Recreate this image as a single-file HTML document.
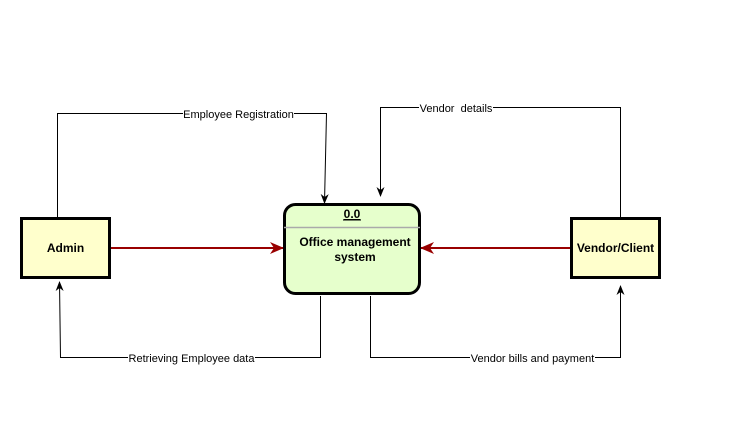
<!DOCTYPE html>
<html><head><meta charset="utf-8"><style>
html,body{margin:0;padding:0;background:#fff;}
svg{display:block;}
text{font-family:"Liberation Sans",Arial,sans-serif;}
</style></head><body>
<svg width="731" height="424" viewBox="0 0 731 424" xmlns="http://www.w3.org/2000/svg">
<defs>
<marker id="ab" markerWidth="10" markerHeight="10" refX="9" refY="5" orient="auto" markerUnits="userSpaceOnUse"><path d="M0,1 L10,5 L0,9 L3,5 Z" fill="#000"/></marker>
<marker id="ar" markerWidth="14" markerHeight="12" refX="13" refY="6" orient="auto" markerUnits="userSpaceOnUse"><path d="M0,0 L14,6 L0,12 L4,6 Z" fill="#990000"/></marker>
</defs>
<!-- connectors -->
<polyline points="57.5,217 57.5,113.5 326.5,113.5 324.5,203" fill="none" stroke="#000" stroke-width="1" marker-end="url(#ab)"/>
<polyline points="620.5,217 620.5,107.5 380.5,107.5 380.5,196" fill="none" stroke="#000" stroke-width="1" marker-end="url(#ab)"/>
<polyline points="320.5,296 320.5,357.5 60.5,357.5 59.5,282" fill="none" stroke="#000" stroke-width="1" marker-end="url(#ab)"/>
<polyline points="370.5,296 370.5,357.5 620.5,357.5 620.5,286" fill="none" stroke="#000" stroke-width="1" marker-end="url(#ab)"/>
<line x1="111" y1="248" x2="283" y2="248" stroke="#990000" stroke-width="2" marker-end="url(#ar)"/>
<line x1="570" y1="248" x2="421" y2="248" stroke="#990000" stroke-width="2" marker-end="url(#ar)"/>
<!-- labels -->
<rect x="183" y="107" width="111" height="13" fill="#fff"/>
<text x="238.5" y="118" font-size="11" text-anchor="middle">Employee Registration</text>
<rect x="419" y="101" width="74" height="13" fill="#fff"/>
<text x="456" y="112" font-size="11" text-anchor="middle" xml:space="preserve">Vendor  details</text>
<rect x="128" y="351" width="127" height="13" fill="#fff"/>
<text x="191.5" y="362" font-size="11" text-anchor="middle">Retrieving Employee data</text>
<rect x="470" y="351" width="125" height="13" fill="#fff"/>
<text x="532.5" y="362" font-size="11" text-anchor="middle">Vendor bills and payment</text>
<!-- boxes -->
<rect x="21.5" y="218.5" width="88" height="59" fill="#ffffcc" stroke="#000" stroke-width="3"/>
<text x="65.5" y="252" font-size="12" font-weight="bold" text-anchor="middle">Admin</text>
<rect x="571.5" y="218.5" width="88" height="59" fill="#ffffcc" stroke="#000" stroke-width="3"/>
<text x="615.5" y="252" font-size="12" font-weight="bold" text-anchor="middle">Vendor/Client</text>
<rect x="284.5" y="204.5" width="135" height="89" rx="11" ry="11" fill="#e6ffcc" stroke="#000" stroke-width="3"/>
<line x1="284" y1="227.5" x2="420" y2="227.5" stroke="#aaa" stroke-width="1.5"/>
<text x="352" y="218" font-size="12" font-weight="bold" text-anchor="middle" text-decoration="underline">0.0</text>
<line x1="343" y1="220" x2="361" y2="220" stroke="#000" stroke-width="1"/>
<text x="355" y="246" font-size="12" font-weight="bold" text-anchor="middle">Office management</text>
<text x="355" y="261" font-size="12" font-weight="bold" text-anchor="middle">system</text>
</svg>
</body></html>
